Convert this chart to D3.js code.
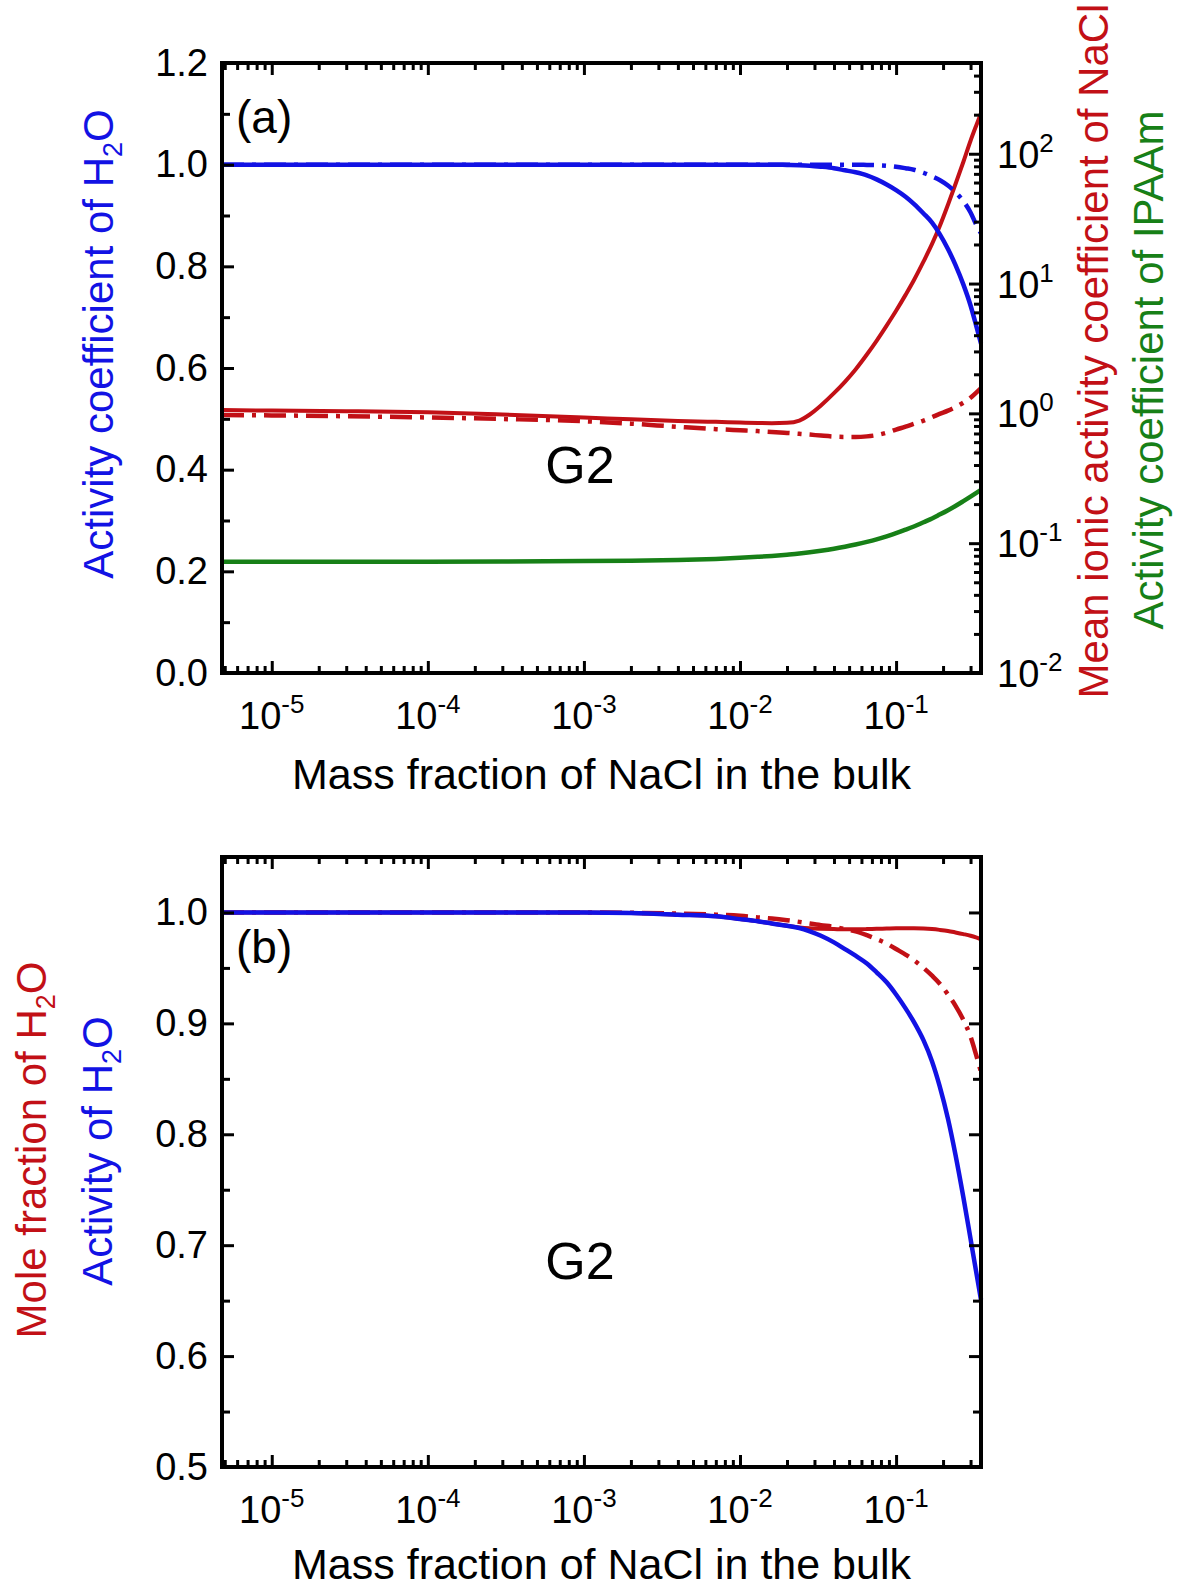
<!DOCTYPE html>
<html>
<head>
<meta charset="utf-8">
<script src="https://cdn.jsdelivr.net/npm/d3@7"></script>
<style>
  body { margin: 0; background: #fff; }
  svg { font-family: "Liberation Sans", Arial, sans-serif; }
</style>
</head>
<body>
<div id="chart"></div>
<script>
// mass fraction of NaCl in the bulk, shared x of every curve
const massFrac = [4.8e-6, 1e-5, 3e-5, 1e-4, 3e-4, 1e-3, 2e-3, 4e-3, 0.007, 0.01, 0.013, 0.016, 0.02, 0.024, 0.028, 0.033, 0.04, 0.047, 0.055, 0.065, 0.075, 0.087, 0.1, 0.115, 0.13, 0.15, 0.17, 0.19, 0.215, 0.24, 0.27, 0.3, 0.325, 0.35];

// panel (a), left axis: activity coefficient of H2O (solid, dash-dot)
const gammaW      = [1, 1, 1, 1, 1, 1, 1, 1, 1, 1, 1, 1, 0.9995, 0.999, 0.998, 0.996, 0.993, 0.989, 0.985, 0.979, 0.971, 0.961, 0.950, 0.937, 0.923, 0.904, 0.886, 0.864, 0.834, 0.803, 0.764, 0.723, 0.685, 0.648];
const gammaWdd    = [1, 1, 1, 1, 1, 1, 1, 1, 1, 1, 1, 1, 1, 1, 1, 1, 1, 1, 1, 0.9995, 0.999, 0.998, 0.996, 0.993, 0.990, 0.984, 0.977, 0.970, 0.959, 0.946, 0.928, 0.906, 0.883, 0.865];
// panel (a), right log axis: mean ionic activity coefficient of NaCl (solid, dash-dot), IPAAm
const gammaNaCl   = [1.06, 1.05, 1.04, 1.02, 0.98, 0.93, 0.90, 0.875, 0.86, 0.85, 0.843, 0.84, 0.845, 0.88, 0.98, 1.15, 1.43, 1.75, 2.18, 2.84, 3.62, 4.74, 6.17, 8.18, 10.6, 14.8, 20.2, 27.5, 40.5, 58.2, 86.7, 126, 163, 205];
const gammaNaCldd = [0.97, 0.965, 0.95, 0.93, 0.905, 0.87, 0.833, 0.788, 0.756, 0.741, 0.73, 0.72, 0.707, 0.696, 0.686, 0.674, 0.662, 0.658, 0.658, 0.665, 0.68, 0.71, 0.75, 0.79, 0.83, 0.88, 0.935, 0.99, 1.05, 1.12, 1.21, 1.32, 1.44, 1.56];
const gammaIPAAm  = [0.072, 0.072, 0.072, 0.072, 0.0723, 0.0728, 0.0733, 0.0743, 0.0757, 0.0771, 0.0785, 0.0798, 0.0816, 0.0833, 0.0852, 0.0875, 0.0907, 0.094, 0.0977, 0.1023, 0.107, 0.113, 0.1194, 0.127, 0.1345, 0.145, 0.155, 0.166, 0.1796, 0.1935, 0.211, 0.2285, 0.243, 0.257];

// panel (b): activity of H2O, mole fraction of H2O (solid, dash-dot)
const actW        = [1, 1, 1, 1, 1, 1, 0.9995, 0.998, 0.9965, 0.994, 0.992, 0.990, 0.988, 0.986, 0.983, 0.979, 0.973, 0.967, 0.961, 0.954, 0.946, 0.937, 0.926, 0.9135, 0.9013, 0.8846, 0.8657, 0.8437, 0.814, 0.7818, 0.743, 0.7057, 0.677, 0.6508];
const moleW       = [1, 1, 1, 1, 1, 1, 0.9995, 0.998, 0.9965, 0.994, 0.992, 0.990, 0.988, 0.9865, 0.9857, 0.9853, 0.985, 0.9848, 0.9848, 0.985, 0.9853, 0.9855, 0.9857, 0.9857, 0.9857, 0.9855, 0.985, 0.9843, 0.9833, 0.982, 0.9805, 0.979, 0.9775, 0.9758];
const moleWdd     = [1, 1, 1, 1, 1, 1, 0.9997, 0.999, 0.998, 0.997, 0.9955, 0.9945, 0.993, 0.9915, 0.990, 0.9885, 0.987, 0.985, 0.983, 0.9795, 0.976, 0.972, 0.967, 0.962, 0.957, 0.950, 0.943, 0.936, 0.926, 0.916, 0.903, 0.888, 0.872, 0.856];

// ticks
const xExp = [-5, -4, -3, -2, -1];
const rightExp = [-2, -1, 0, 1, 2];
const yTicksA = [0, 0.2, 0.4, 0.6, 0.8, 1.0, 1.2];
const yMinorA = [0.1, 0.3, 0.5, 0.7, 0.9, 1.1];
const yTicksB = [0.5, 0.6, 0.7, 0.8, 0.9, 1.0];
const yMinorB = [0.55, 0.65, 0.75, 0.85, 0.95, 1.05];

const blue = "#1212e4", red = "#c21016", green = "#178017";
const dashdot = "22,8,4,8";

const width = 1180, height = 1590;
const left = 222, right = 981;

const svg = d3.select("#chart").append("svg")
    .attr("width", width)
    .attr("height", height);

const x = d3.scaleLog().domain([massFrac[0], massFrac[massFrac.length - 1]]).range([left, right]);
const xMajor = xExp.map(e => Math.pow(10, e));
const xMinor = x.ticks().filter(d => !xMajor.some(m => Math.abs(m - d) / m < 1e-9));

// panel geometry
const topA = 63, botA = 673;
const topB = 857, botB = 1467;

const yA = d3.scaleLinear().domain([0, 1.2]).range([botA, topA]);
const yR = d3.scaleLog().domain([0.01, 500]).range([botA, topA]);
const yB = d3.scaleLinear().domain([0.5, 1.05]).range([botB, topB]);

function styleTicks(g) {
  g.select(".domain").remove();
  g.selectAll(".tick line").attr("stroke", "#000").attr("stroke-width", 3);
}

function xAxes(top, bot, titleY) {
  // bottom axis, labelled
  svg.append("g").attr("transform", `translate(0,${bot})`)
    .call(d3.axisBottom(x).tickValues(xMajor).tickSize(-12).tickFormat(""))
    .call(styleTicks);
  svg.append("g").attr("transform", `translate(0,${bot})`)
    .call(d3.axisBottom(x).tickValues(xMinor).tickSize(-7).tickFormat(""))
    .call(styleTicks);
  // top mirror
  svg.append("g").attr("transform", `translate(0,${top})`)
    .call(d3.axisTop(x).tickValues(xMajor).tickSize(-12).tickFormat(""))
    .call(styleTicks);
  svg.append("g").attr("transform", `translate(0,${top})`)
    .call(d3.axisTop(x).tickValues(xMinor).tickSize(-7).tickFormat(""))
    .call(styleTicks);

  const lab = svg.append("g").selectAll("text")
    .data(xMajor)
    .join("text")
    .attr("x", d => x(d))
    .attr("y", bot + 56)
    .attr("text-anchor", "middle")
    .attr("font-size", 38);
  lab.append("tspan").text("10");
  lab.append("tspan").attr("dy", -16).attr("font-size", 26).text((d, i) => xExp[i]);

  svg.append("text")
    .attr("x", (left + right) / 2)
    .attr("y", titleY)
    .attr("text-anchor", "middle")
    .attr("font-size", 43)
    .text("Mass fraction of NaCl in the bulk");
}

function frame(top, bot) {
  svg.append("rect")
    .attr("x", left).attr("y", top)
    .attr("width", right - left).attr("height", bot - top)
    .attr("fill", "none").attr("stroke", "#000").attr("stroke-width", 4);
}

function curve(ys, yScale, color, w, dash) {
  const line = d3.line()
    .x((d, i) => x(massFrac[i]))
    .y(d => yScale(d))
    .curve(d3.curveMonotoneX);
  svg.append("path")
    .datum(ys)
    .attr("d", line)
    .attr("fill", "none")
    .attr("stroke", color)
    .attr("stroke-width", w)
    .attr("stroke-dasharray", dash || null);
}

function vTitle(px, py, parts, color) {
  // rotated title; parts: [text, subscript, text]
  const t = svg.append("text")
    .attr("transform", `translate(${px},${py}) rotate(-90)`)
    .attr("text-anchor", "middle")
    .attr("font-size", 42)
    .attr("fill", color);
  t.append("tspan").text(parts[0]);
  if (parts.length > 1) {
    t.append("tspan").attr("dy", 9).attr("font-size", 27).text(parts[1]);
    t.append("tspan").attr("dy", -9).text(parts[2]);
  }
}

// ---------- panel (a) ----------
curve(gammaIPAAm, yR, green, 4.5);
curve(gammaNaCldd, yR, red, 4.5, dashdot);
curve(gammaNaCl, yR, red, 4);
curve(gammaWdd, yA, blue, 4.5, dashdot);
curve(gammaW, yA, blue, 4.5);

svg.append("g").attr("transform", `translate(${left},0)`)
  .call(d3.axisLeft(yA).tickValues(yTicksA).tickSize(-12).tickPadding(14).tickFormat(d3.format(".1f")))
  .call(styleTicks)
  .call(g => g.selectAll("text").attr("font-size", 38).attr("font-family", null).attr("fill", "#000"));
svg.append("g").attr("transform", `translate(${left},0)`)
  .call(d3.axisLeft(yA).tickValues(yMinorA).tickSize(-8).tickFormat(""))
  .call(styleTicks);

const rMajor = rightExp.map(e => Math.pow(10, e));
const rMinor = yR.ticks().filter(d => !rMajor.some(m => Math.abs(m - d) / m < 1e-9));
svg.append("g").attr("transform", `translate(${right},0)`)
  .call(d3.axisRight(yR).tickValues(rMajor).tickSize(-12).tickFormat(""))
  .call(styleTicks);
svg.append("g").attr("transform", `translate(${right},0)`)
  .call(d3.axisRight(yR).tickValues(rMinor).tickSize(-7).tickFormat(""))
  .call(styleTicks);
const rLab = svg.append("g").selectAll("text")
  .data(rMajor)
  .join("text")
  .attr("x", right + 16)
  .attr("y", d => yR(d) + 14)
  .attr("font-size", 38);
rLab.append("tspan").text("10");
rLab.append("tspan").attr("dy", -16).attr("font-size", 26).text((d, i) => rightExp[i]);

xAxes(topA, botA, 789);
frame(topA, botA);

vTitle(113, 344, ["Activity coefficient of H", "2", "O"], blue);
vTitle(1108, 351, ["Mean ionic activity coefficient of NaCl"], red);
vTitle(1163, 370, ["Activity coefficient of IPAAm"], green);

svg.append("text").attr("x", 236).attr("y", 133).attr("font-size", 46).text("(a)");
svg.append("text").attr("x", 580).attr("y", 483).attr("text-anchor", "middle").attr("font-size", 52).text("G2");

// ---------- panel (b) ----------
curve(moleWdd, yB, red, 4.5, dashdot);
curve(moleW, yB, red, 4);
curve(actW, yB, blue, 4.5);

svg.append("g").attr("transform", `translate(${left},0)`)
  .call(d3.axisLeft(yB).tickValues(yTicksB).tickSize(-12).tickPadding(14).tickFormat(d3.format(".1f")))
  .call(styleTicks)
  .call(g => g.selectAll("text").attr("font-size", 38).attr("font-family", null).attr("fill", "#000"));
svg.append("g").attr("transform", `translate(${left},0)`)
  .call(d3.axisLeft(yB).tickValues(yMinorB).tickSize(-8).tickFormat(""))
  .call(styleTicks);
svg.append("g").attr("transform", `translate(${right},0)`)
  .call(d3.axisRight(yB).tickValues(yTicksB).tickSize(-12).tickFormat(""))
  .call(styleTicks);
svg.append("g").attr("transform", `translate(${right},0)`)
  .call(d3.axisRight(yB).tickValues(yMinorB).tickSize(-8).tickFormat(""))
  .call(styleTicks);

xAxes(topB, botB, 1579);
frame(topB, botB);

vTitle(46, 1150, ["Mole fraction of H", "2", "O"], red);
vTitle(112, 1151, ["Activity of H", "2", "O"], blue);

svg.append("text").attr("x", 236).attr("y", 963).attr("font-size", 46).text("(b)");
svg.append("text").attr("x", 580).attr("y", 1279).attr("text-anchor", "middle").attr("font-size", 52).text("G2");
</script>
</body>
</html>
